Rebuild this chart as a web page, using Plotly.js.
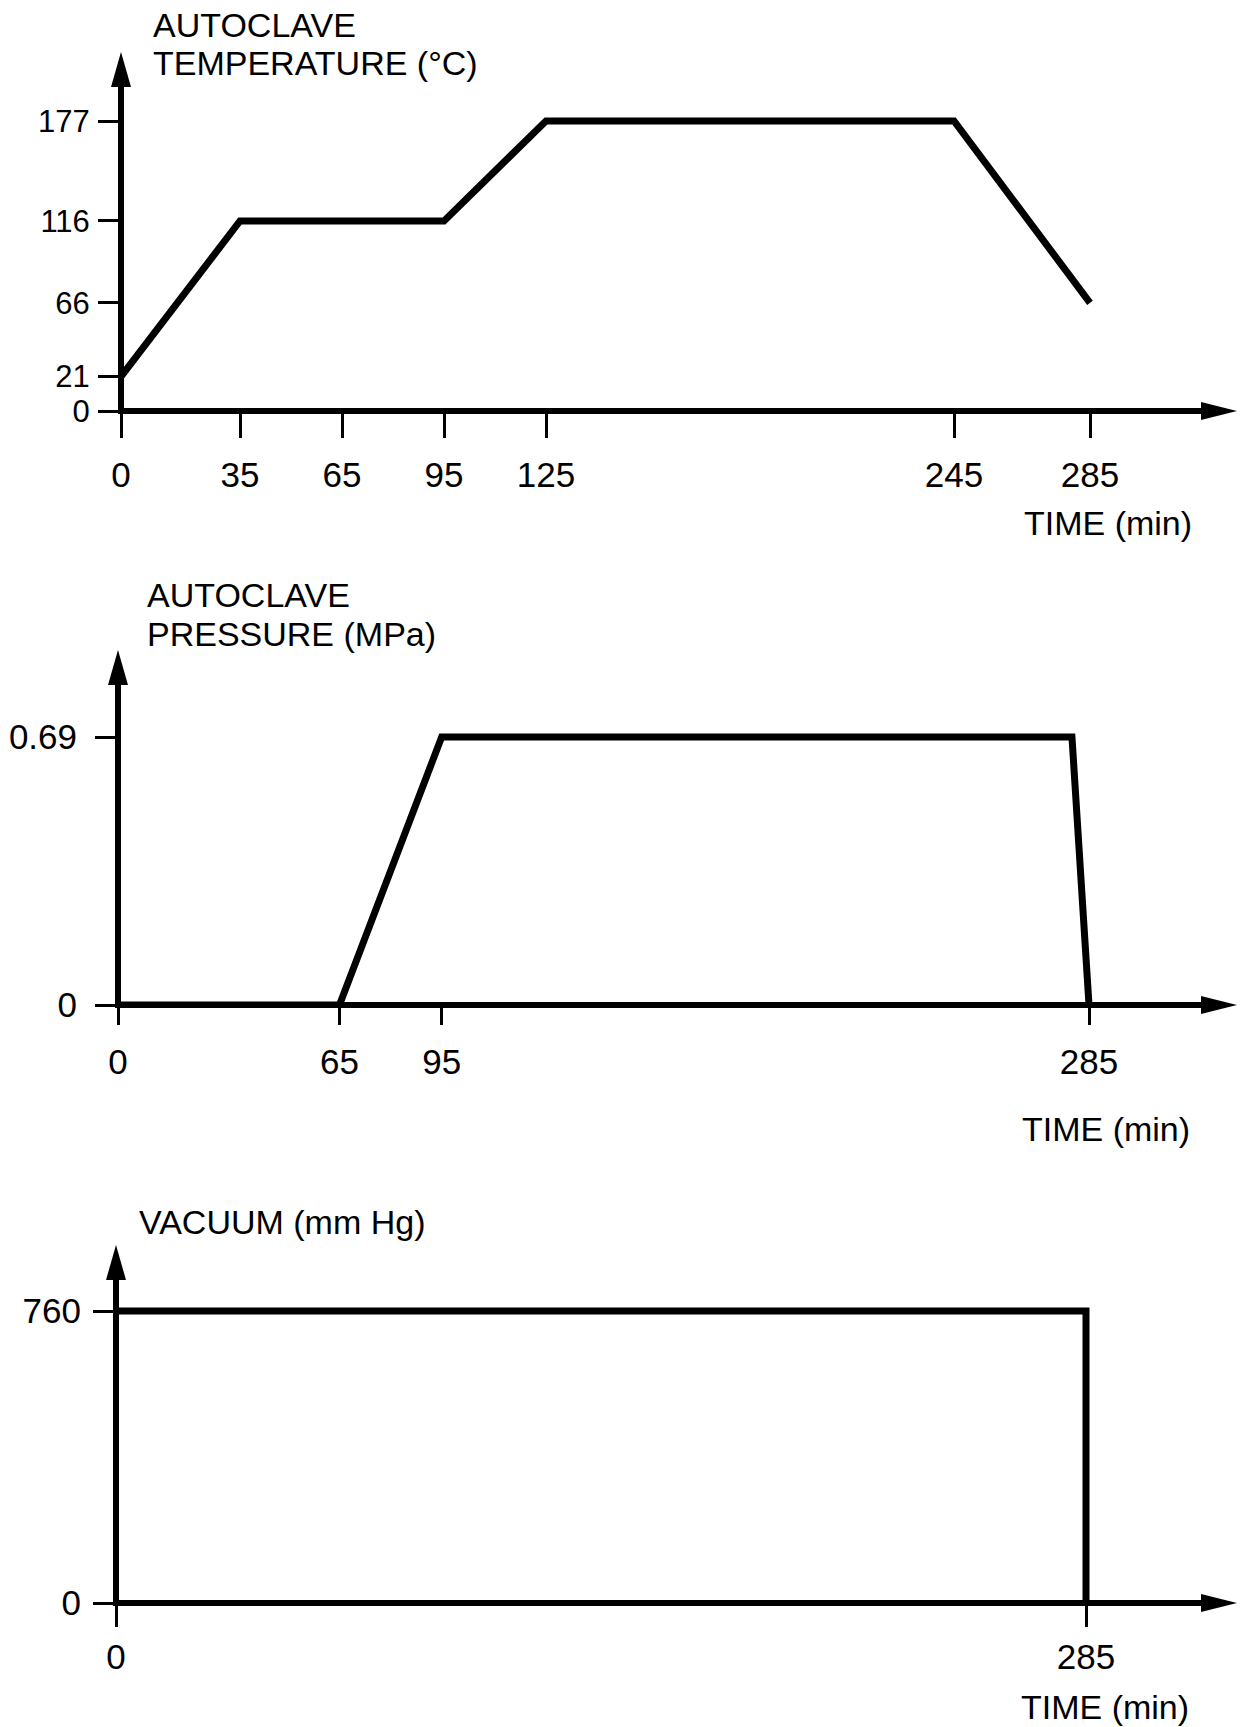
<!DOCTYPE html>
<html>
<head>
<meta charset="utf-8">
<script src="https://cdn.plot.ly/plotly-3.0.1.min.js"></script>
<style>
  html, body { margin: 0; padding: 0; background: #ffffff; }
  #chart { width: 1240px; height: 1727px; }
</style>
</head>
<body>
<div id="chart"></div>
<script>
// ---------- data ----------
const tempTime  = [0, 35, 95, 125, 245, 285];
const tempValue = [21, 116, 116, 177, 177, 66];
const tempXTicks = [0, 35, 65, 95, 125, 245, 285];
const tempYTicks = [0, 21, 66, 116, 177];

const pressTime  = [0, 65, 95, 280, 285];
const pressValue = [0, 0, 0.69, 0.69, 0];
const pressXTicks = [0, 65, 95, 285];
const pressYTicks = [0, 0.69];

const vacTime  = [0, 285, 285];
const vacValue = [760, 760, 0];
const vacXTicks = [0, 285];
const vacYTicks = [0, 760];

const tempTitle  = ['AUTOCLAVE', 'TEMPERATURE (°C)'];
const pressTitle = ['AUTOCLAVE', 'PRESSURE (MPa)'];
const vacTitle   = ['VACUUM (mm Hg)'];
const timeTitle  = 'TIME (min)';

// ---------- layout geometry (pixels) ----------
const W = 1240, H = 1727;
const FONT = 'Liberation Sans, Arial, Helvetica, sans-serif';
const FS = 34;      // titles
const TFS = 35;     // tick labels
const LW = 7;

const panels = [
  {x0: 121, xRef: 285, xRefPx: 1090, tipX: 1237, y0: 411,  yRef: 177,  yRefPx: 121,  tipY: 52,
   tickX: 26, standX: 7, standY: 2, yFS: 31, title: tempTitle,  titleX: 151, titleY: [25, 63], timeX: 1194, timeY: 523,
   t: tempTime, v: tempValue, xt: tempXTicks, yt: tempYTicks},
  {x0: 118, xRef: 285, xRefPx: 1089, tipX: 1237, y0: 1005, yRef: 0.69, yRefPx: 737,  tipY: 650,
   tickX: 19, standX: 7, standY: 11, yFS: TFS, title: pressTitle, titleX: 145, titleY: [595, 634], timeX: 1192, timeY: 1129,
   t: pressTime, v: pressValue, xt: pressXTicks, yt: pressYTicks},
  {x0: 116, xRef: 285, xRefPx: 1086, tipX: 1237, y0: 1603, yRef: 760,  yRefPx: 1311, tipY: 1245,
   tickX: 23, standX: 0, standY: 5, yFS: TFS, title: vacTitle,   titleX: 137, titleY: [1222], timeX: 1191, timeY: 1707,
   t: vacTime, v: vacValue, xt: vacXTicks, yt: vacYTicks}
];

const px = x => x / W;
const py = y => 1 - y / H;

const data = [];
const layout = {
  width: W, height: H, autosize: false,
  margin: {l: 0, r: 0, t: 0, b: 0, pad: 0},
  paper_bgcolor: '#ffffff', plot_bgcolor: '#ffffff',
  showlegend: false,
  font: {family: FONT, size: FS, color: '#000000'},
  shapes: [], annotations: []
};

panels.forEach((p, i) => {
  const n = i === 0 ? '' : String(i + 1);
  const xName = 'xaxis' + n, yName = 'yaxis' + n;
  const rightPx = p.tipX - 14;
  const topPx = p.tipY + 14;
  const xMax = p.xRef * (rightPx - p.x0) / (p.xRefPx - p.x0);
  const yMax = p.yRef * (p.y0 - topPx) / (p.y0 - p.yRefPx);

  data.push({
    type: 'scatter', mode: 'lines',
    x: p.t, y: p.v,
    xaxis: 'x' + n, yaxis: 'y' + n,
    line: {color: '#000000', width: LW, shape: 'linear'},
    hoverinfo: 'skip'
  });

  layout[xName] = {
    domain: [px(p.x0), px(rightPx)],
    range: [0, xMax],
    anchor: 'y' + n,
    showgrid: false, zeroline: false, showline: false,
    tickmode: 'array', tickvals: p.xt, ticktext: p.xt.map(String),
    ticks: 'outside', ticklen: p.tickX, tickwidth: 3, tickcolor: '#000000',
    ticklabelstandoff: p.standX,
    tickfont: {family: FONT, size: TFS, color: '#000000'},
    fixedrange: true
  };
  layout[yName] = {
    domain: [py(p.y0), py(topPx)],
    range: [0, yMax],
    anchor: 'x' + n,
    showgrid: false, zeroline: false, showline: false,
    tickmode: 'array', tickvals: p.yt, ticktext: p.yt.map(String),
    ticks: 'outside', ticklen: 22, tickwidth: 3, tickcolor: '#000000',
    ticklabelstandoff: p.standY,
    tickfont: {family: FONT, size: p.yFS, color: '#000000'},
    fixedrange: true
  };

  // axis lines
  layout.shapes.push({
    type: 'line', xref: 'paper', yref: 'paper', layer: 'above',
    x0: px(p.x0 - 3), y0: py(p.y0), x1: px(p.tipX - 20), y1: py(p.y0),
    line: {color: '#000000', width: LW - 1}
  });
  layout.shapes.push({
    type: 'line', xref: 'paper', yref: 'paper', layer: 'above',
    x0: px(p.x0), y0: py(p.y0 + 3), x1: px(p.x0), y1: py(p.tipY + 20),
    line: {color: '#000000', width: LW - 1}
  });
  // arrowheads
  const ax = p.tipX, ay = p.y0;
  layout.shapes.push({
    type: 'path', xref: 'paper', yref: 'paper', layer: 'above',
    path: `M${px(ax)},${py(ay)} L${px(ax - 36)},${py(ay - 9)} L${px(ax - 36)},${py(ay + 9)} Z`,
    fillcolor: '#000000', line: {color: '#000000', width: 0}
  });
  const bx = p.x0, by = p.tipY;
  layout.shapes.push({
    type: 'path', xref: 'paper', yref: 'paper', layer: 'above',
    path: `M${px(bx)},${py(by)} L${px(bx - 10)},${py(by + 35)} L${px(bx + 10)},${py(by + 35)} Z`,
    fillcolor: '#000000', line: {color: '#000000', width: 0}
  });

  // axis titles (one annotation per printed line)
  p.title.forEach((line, k) => {
    layout.annotations.push({
      xref: 'paper', yref: 'paper', x: px(p.titleX), y: py(p.titleY[k]),
      xanchor: 'left', yanchor: 'middle', align: 'left', showarrow: false,
      text: line, font: {family: FONT, size: FS, color: '#000000'}
    });
  });
  layout.annotations.push({
    xref: 'paper', yref: 'paper', x: px(p.timeX), y: py(p.timeY),
    xanchor: 'right', yanchor: 'middle', align: 'right', showarrow: false,
    text: timeTitle, font: {family: FONT, size: FS, color: '#000000'}
  });
});

Plotly.newPlot('chart', data, layout, {staticPlot: true, displayModeBar: false});
</script>
</body>
</html>
